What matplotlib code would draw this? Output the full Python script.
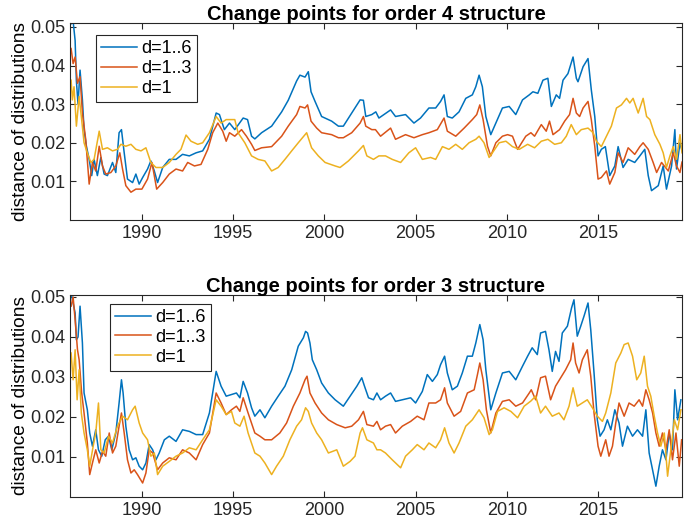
import matplotlib
matplotlib.use("Agg")
import matplotlib.pyplot as plt

plt.rcParams['font.family'] = ['Liberation Sans', 'DejaVu Sans']

# colours used by MATLAB for the first three lines
C_BLUE = '#0072BD'
C_RED = '#D95319'
C_YEL = '#EDB120'

labels = ['d=1..6', 'd=1..3', 'd=1']
titles = ['Change points for order 4 structure', 'Change points for order 3 structure']
year_ticks = [1990, 1995, 2000, 2005, 2010, 2015]
dist_ticks = [0.01, 0.02, 0.03, 0.04, 0.05]

# ---- order 4 structure ----
top_d16_t = [1986.12, 1986.23, 1986.34, 1986.41, 1986.50, 1986.61, 1986.74, 1986.83, 1986.96, 1987.11,
             1987.25, 1987.38, 1987.56, 1987.75, 1987.93, 1988.11, 1988.39, 1988.57, 1988.75, 1988.88,
             1989.03, 1989.21, 1989.49, 1989.67, 1989.85, 1990.04, 1990.31, 1990.49, 1990.68, 1990.86,
             1991.14, 1991.50, 1991.87, 1992.23, 1992.60, 1992.97, 1993.33, 1993.70, 1994.07, 1994.25,
             1994.52, 1994.80, 1995.09, 1995.55, 1995.79, 1996.01, 1996.19, 1996.56, 1997.11, 1997.66,
             1998.02, 1998.48, 1998.66, 1998.94, 1999.12, 1999.27, 1999.49, 1999.85, 2000.40, 2000.77,
             2001.04, 2001.50, 2001.96, 2002.14, 2002.27, 2002.60, 2002.82, 2002.99, 2003.26, 2003.63,
             2003.90, 2004.45, 2004.91, 2005.27, 2005.73, 2006.10, 2006.37, 2006.56, 2006.74, 2007.01,
             2007.38, 2007.75, 2008.11, 2008.30, 2008.48, 2008.66, 2008.85, 2009.12, 2009.40, 2009.76,
             2010.13, 2010.49, 2010.86, 2011.23, 2011.43, 2011.70, 2011.98, 2012.25, 2012.44, 2012.71,
             2012.89, 2013.08, 2013.35, 2013.63, 2013.81, 2013.90, 2014.18, 2014.45, 2014.63, 2014.82,
             2015.00, 2015.18, 2015.40, 2015.64, 2015.92, 2016.10, 2016.37, 2016.65, 2017.01, 2017.29,
             2017.56, 2017.75, 2017.93, 2018.30, 2018.57, 2018.75, 2019.03, 2019.21, 2019.30, 2019.49,
             2019.60]
top_d16_v = [0.0508, 0.0515, 0.0465, 0.0360, 0.0300, 0.0388, 0.0311, 0.0234, 0.0191, 0.0157,
             0.0115, 0.0157, 0.0115, 0.0162, 0.0119, 0.0115, 0.0149, 0.0123, 0.0226, 0.0234,
             0.0174, 0.0106, 0.0097, 0.0119, 0.0093, 0.0110, 0.0132, 0.0153, 0.0127, 0.0097,
             0.0136, 0.0157, 0.0157, 0.0170, 0.0166, 0.0174, 0.0179, 0.0209, 0.0277, 0.0273,
             0.0234, 0.0251, 0.0234, 0.0264, 0.0260, 0.0217, 0.0210, 0.0226, 0.0243, 0.0280,
             0.0310, 0.0360, 0.0375, 0.0370, 0.0384, 0.0332, 0.0307, 0.0268, 0.0256, 0.0243,
             0.0243, 0.0277, 0.0311, 0.0310, 0.0268, 0.0273, 0.0280, 0.0264, 0.0273, 0.0285,
             0.0268, 0.0273, 0.0251, 0.0264, 0.0290, 0.0290, 0.0307, 0.0324, 0.0268, 0.0264,
             0.0280, 0.0315, 0.0324, 0.0345, 0.0375, 0.0345, 0.0268, 0.0221, 0.0251, 0.0290,
             0.0294, 0.0273, 0.0311, 0.0324, 0.0332, 0.0328, 0.0362, 0.0367, 0.0294, 0.0324,
             0.0315, 0.0362, 0.0379, 0.0422, 0.0367, 0.0358, 0.0397, 0.0418, 0.0337, 0.0268,
             0.0166, 0.0183, 0.0190, 0.0115, 0.0140, 0.0190, 0.0136, 0.0157, 0.0149, 0.0166,
             0.0183, 0.0115, 0.0076, 0.0089, 0.0140, 0.0080, 0.0140, 0.0234, 0.0132, 0.0200,
             0.0180]

top_d13_t = [1986.12, 1986.23, 1986.34, 1986.47, 1986.61, 1986.74, 1986.92, 1987.11, 1987.29, 1987.47,
             1987.66, 1987.84, 1988.02, 1988.30, 1988.57, 1988.79, 1988.94, 1989.12, 1989.40, 1989.67,
             1990.00, 1990.31, 1990.55, 1990.81, 1991.14, 1991.50, 1991.87, 1992.23, 1992.51, 1992.88,
             1993.24, 1993.61, 1993.88, 1994.16, 1994.43, 1994.62, 1994.80, 1995.09, 1995.46, 1995.73,
             1996.01, 1996.19, 1996.56, 1997.11, 1997.66, 1998.02, 1998.48, 1998.66, 1998.94, 1999.08,
             1999.27, 1999.58, 1999.85, 2000.40, 2000.77, 2001.04, 2001.50, 2001.96, 2002.14, 2002.27,
             2002.60, 2002.80, 2003.08, 2003.63, 2003.90, 2004.45, 2004.91, 2005.37, 2005.73, 2006.19,
             2006.56, 2006.74, 2007.20, 2007.66, 2008.11, 2008.35, 2008.52, 2008.70, 2008.94, 2009.12,
             2009.40, 2009.76, 2010.04, 2010.31, 2010.59, 2011.04, 2011.32, 2011.52, 2011.89, 2012.16,
             2012.34, 2012.53, 2012.89, 2013.17, 2013.44, 2013.63, 2013.81, 2013.99, 2014.18, 2014.45,
             2014.63, 2014.82, 2015.00, 2015.18, 2015.46, 2015.64, 2015.92, 2016.10, 2016.37, 2016.65,
             2017.01, 2017.29, 2017.47, 2017.75, 2018.02, 2018.21, 2018.48, 2018.85, 2019.12, 2019.30,
             2019.49, 2019.60]
top_d13_v = [0.0444, 0.0405, 0.0422, 0.0354, 0.0371, 0.0277, 0.0209, 0.0093, 0.0149, 0.0127,
             0.0191, 0.0140, 0.0119, 0.0123, 0.0140, 0.0174, 0.0132, 0.0089, 0.0072, 0.0080,
             0.0080, 0.0106, 0.0149, 0.0080, 0.0097, 0.0119, 0.0132, 0.0127, 0.0149, 0.0140,
             0.0144, 0.0183, 0.0226, 0.0251, 0.0230, 0.0204, 0.0226, 0.0217, 0.0234, 0.0217,
             0.0196, 0.0180, 0.0187, 0.0190, 0.0217, 0.0243, 0.0273, 0.0294, 0.0290, 0.0298,
             0.0256, 0.0238, 0.0226, 0.0221, 0.0213, 0.0213, 0.0226, 0.0251, 0.0268, 0.0243,
             0.0234, 0.0234, 0.0217, 0.0238, 0.0209, 0.0221, 0.0213, 0.0221, 0.0226, 0.0234,
             0.0264, 0.0230, 0.0217, 0.0238, 0.0260, 0.0273, 0.0298, 0.0260, 0.0191, 0.0166,
             0.0200, 0.0217, 0.0221, 0.0217, 0.0183, 0.0217, 0.0226, 0.0217, 0.0247, 0.0230,
             0.0256, 0.0221, 0.0234, 0.0256, 0.0273, 0.0315, 0.0277, 0.0268, 0.0290, 0.0307,
             0.0260, 0.0191, 0.0106, 0.0110, 0.0127, 0.0093, 0.0123, 0.0174, 0.0149, 0.0187,
             0.0170, 0.0190, 0.0200, 0.0183, 0.0149, 0.0123, 0.0149, 0.0127, 0.0174, 0.0140,
             0.0123, 0.0150]

top_d1_t = [1986.12, 1986.19, 1986.28, 1986.41, 1986.56, 1986.68, 1986.83, 1987.01, 1987.20, 1987.38,
            1987.66, 1987.84, 1988.11, 1988.39, 1988.66, 1988.85, 1989.12, 1989.40, 1989.67, 1989.95,
            1990.22, 1990.49, 1990.77, 1991.14, 1991.50, 1991.87, 1992.14, 1992.42, 1992.69, 1993.06,
            1993.33, 1993.70, 1994.07, 1994.34, 1994.62, 1995.09, 1995.27, 1995.64, 1996.01, 1996.37,
            1996.74, 1997.11, 1997.47, 1997.84, 1998.21, 1998.57, 1999.03, 1999.30, 1999.67, 2000.04,
            2000.59, 2000.86, 2001.32, 2001.87, 2002.14, 2002.33, 2002.69, 2002.99, 2003.35, 2003.72,
            2004.18, 2004.63, 2005.00, 2005.37, 2005.82, 2006.10, 2006.47, 2006.83, 2007.20, 2007.56,
            2007.93, 2008.30, 2008.48, 2008.75, 2009.03, 2009.21, 2009.58, 2009.95, 2010.31, 2010.68,
            2011.14, 2011.52, 2011.89, 2012.25, 2012.62, 2012.99, 2013.26, 2013.53, 2013.81, 2014.08,
            2014.45, 2014.73, 2014.91, 2015.18, 2015.46, 2015.73, 2016.01, 2016.28, 2016.56, 2016.74,
            2016.92, 2017.20, 2017.47, 2017.66, 2017.84, 2018.11, 2018.39, 2018.57, 2018.75, 2018.94,
            2019.12, 2019.30, 2019.49, 2019.60]
top_d1_v = [0.0362, 0.0311, 0.0345, 0.0243, 0.0320, 0.0268, 0.0200, 0.0174, 0.0149, 0.0157,
            0.0230, 0.0183, 0.0187, 0.0179, 0.0183, 0.0196, 0.0191, 0.0196, 0.0183, 0.0179,
            0.0187, 0.0149, 0.0136, 0.0136, 0.0149, 0.0170, 0.0183, 0.0220, 0.0204, 0.0196,
            0.0200, 0.0226, 0.0268, 0.0251, 0.0260, 0.0260, 0.0226, 0.0200, 0.0166, 0.0157,
            0.0153, 0.0127, 0.0136, 0.0157, 0.0179, 0.0200, 0.0226, 0.0187, 0.0166, 0.0149,
            0.0140, 0.0136, 0.0153, 0.0179, 0.0193, 0.0166, 0.0157, 0.0166, 0.0166, 0.0157,
            0.0149, 0.0174, 0.0187, 0.0157, 0.0162, 0.0157, 0.0190, 0.0183, 0.0196, 0.0183,
            0.0200, 0.0209, 0.0217, 0.0200, 0.0162, 0.0174, 0.0200, 0.0204, 0.0190, 0.0183,
            0.0196, 0.0187, 0.0204, 0.0209, 0.0196, 0.0200, 0.0217, 0.0247, 0.0221, 0.0234,
            0.0238, 0.0226, 0.0204, 0.0190, 0.0217, 0.0243, 0.0290, 0.0298, 0.0315, 0.0303,
            0.0315, 0.0277, 0.0315, 0.0268, 0.0260, 0.0221, 0.0196, 0.0174, 0.0136, 0.0166,
            0.0190, 0.0157, 0.0221, 0.0174]

# ---- order 3 structure ----
bot_d16_t = [1986.12, 1986.23, 1986.34, 1986.41, 1986.50, 1986.61, 1986.74, 1986.83, 1987.01, 1987.14,
             1987.29, 1987.47, 1987.62, 1987.80, 1987.99, 1988.17, 1988.35, 1988.57, 1988.75, 1988.88,
             1988.97, 1989.12, 1989.30, 1989.49, 1989.67, 1989.85, 1990.04, 1990.22, 1990.40, 1990.59,
             1990.77, 1990.95, 1991.23, 1991.50, 1991.87, 1992.23, 1992.60, 1992.97, 1993.33, 1993.70,
             1994.07, 1994.34, 1994.62, 1994.91, 1995.18, 1995.37, 1995.55, 1995.79, 1996.01, 1996.19,
             1996.47, 1996.74, 1997.11, 1997.47, 1997.84, 1998.21, 1998.57, 1998.85, 1998.97, 1999.08,
             1999.21, 1999.34, 1999.58, 1999.85, 2000.22, 2000.59, 2001.04, 2001.41, 2001.78, 2002.05,
             2002.20, 2002.42, 2002.69, 2002.88, 2003.08, 2003.35, 2003.63, 2003.90, 2004.27, 2004.73,
             2005.00, 2005.37, 2005.64, 2005.92, 2006.19, 2006.37, 2006.59, 2006.74, 2007.01, 2007.29,
             2007.56, 2007.84, 2008.11, 2008.30, 2008.52, 2008.70, 2008.85, 2009.12, 2009.40, 2009.76,
             2010.13, 2010.49, 2010.86, 2011.14, 2011.39, 2011.67, 2011.85, 2012.12, 2012.31, 2012.49,
             2012.67, 2012.86, 2013.04, 2013.32, 2013.55, 2013.68, 2013.86, 2014.05, 2014.23, 2014.45,
             2014.60, 2014.78, 2014.96, 2015.11, 2015.33, 2015.51, 2015.70, 2015.92, 2016.15, 2016.34,
             2016.61, 2016.89, 2017.16, 2017.44, 2017.62, 2017.80, 2017.99, 2018.17, 2018.35, 2018.53,
             2018.72, 2018.90, 2019.08, 2019.21, 2019.36, 2019.54]
bot_d16_v = [0.0510, 0.0485, 0.0460, 0.0393, 0.0400, 0.0477, 0.0385, 0.0260, 0.0218, 0.0160,
             0.0127, 0.0168, 0.0118, 0.0102, 0.0143, 0.0152, 0.0118, 0.0160, 0.0235, 0.0293,
             0.0260, 0.0177, 0.0118, 0.0093, 0.0098, 0.0077, 0.0068, 0.0085, 0.0131, 0.0118,
             0.0093, 0.0110, 0.0143, 0.0152, 0.0139, 0.0168, 0.0164, 0.0156, 0.0156, 0.0210,
             0.0314, 0.0277, 0.0252, 0.0256, 0.0260, 0.0248, 0.0289, 0.0260, 0.0223, 0.0202,
             0.0218, 0.0198, 0.0227, 0.0252, 0.0277, 0.0318, 0.0377, 0.0398, 0.0414, 0.0410,
             0.0385, 0.0343, 0.0318, 0.0285, 0.0260, 0.0243, 0.0227, 0.0252, 0.0277, 0.0298,
             0.0277, 0.0248, 0.0243, 0.0260, 0.0243, 0.0252, 0.0260, 0.0239, 0.0243, 0.0248,
             0.0235, 0.0264, 0.0306, 0.0289, 0.0306, 0.0331, 0.0352, 0.0310, 0.0268, 0.0277,
             0.0310, 0.0352, 0.0352, 0.0385, 0.0431, 0.0393, 0.0318, 0.0218, 0.0260, 0.0310,
             0.0314, 0.0293, 0.0327, 0.0352, 0.0373, 0.0356, 0.0410, 0.0414, 0.0368, 0.0314,
             0.0364, 0.0339, 0.0410, 0.0427, 0.0473, 0.0493, 0.0402, 0.0427, 0.0452, 0.0485,
             0.0418, 0.0310, 0.0193, 0.0152, 0.0168, 0.0193, 0.0168, 0.0218, 0.0185, 0.0127,
             0.0177, 0.0152, 0.0168, 0.0152, 0.0218, 0.0110, 0.0068, 0.0027, 0.0077, 0.0118,
             0.0093, 0.0160, 0.0118, 0.0268, 0.0193, 0.0243]

bot_d13_t = [1986.12, 1986.23, 1986.34, 1986.47, 1986.56, 1986.70, 1986.83, 1987.01, 1987.14, 1987.29,
             1987.47, 1987.66, 1987.84, 1988.02, 1988.21, 1988.39, 1988.57, 1988.75, 1988.88, 1989.03,
             1989.21, 1989.40, 1989.58, 1989.76, 1990.04, 1990.22, 1990.40, 1990.59, 1990.86, 1991.14,
             1991.50, 1991.87, 1992.23, 1992.60, 1992.97, 1993.33, 1993.70, 1994.07, 1994.34, 1994.62,
             1994.91, 1995.18, 1995.37, 1995.55, 1995.82, 1996.19, 1996.47, 1996.74, 1997.11, 1997.56,
             1997.93, 1998.30, 1998.66, 1998.94, 1999.05, 1999.21, 1999.49, 1999.85, 2000.22, 2000.68,
             2001.14, 2001.50, 2001.87, 2002.14, 2002.33, 2002.69, 2002.88, 2003.08, 2003.35, 2003.63,
             2003.90, 2004.27, 2004.73, 2005.09, 2005.46, 2005.73, 2006.10, 2006.37, 2006.59, 2006.74,
             2007.11, 2007.47, 2007.84, 2008.21, 2008.39, 2008.52, 2008.70, 2008.88, 2009.12, 2009.40,
             2009.76, 2010.13, 2010.49, 2010.86, 2011.23, 2011.34, 2011.58, 2011.85, 2012.12, 2012.40,
             2012.67, 2012.95, 2013.22, 2013.50, 2013.63, 2013.77, 2013.96, 2014.14, 2014.41, 2014.60,
             2014.78, 2015.00, 2015.15, 2015.42, 2015.60, 2015.79, 2015.97, 2016.15, 2016.43, 2016.70,
             2016.98, 2017.25, 2017.44, 2017.62, 2017.80, 2017.99, 2018.17, 2018.35, 2018.53, 2018.72,
             2018.90, 2019.08, 2019.27, 2019.45, 2019.58]
bot_d13_v = [0.0477, 0.0500, 0.0443, 0.0368, 0.0343, 0.0260, 0.0210, 0.0135, 0.0056, 0.0085,
             0.0118, 0.0085, 0.0114, 0.0102, 0.0160, 0.0110, 0.0127, 0.0177, 0.0210, 0.0160,
             0.0093, 0.0060, 0.0068, 0.0056, 0.0035, 0.0060, 0.0118, 0.0110, 0.0068, 0.0085,
             0.0098, 0.0093, 0.0118, 0.0110, 0.0093, 0.0131, 0.0160, 0.0260, 0.0235, 0.0206,
             0.0218, 0.0227, 0.0214, 0.0248, 0.0210, 0.0160, 0.0152, 0.0143, 0.0143, 0.0160,
             0.0185, 0.0227, 0.0260, 0.0293, 0.0302, 0.0260, 0.0235, 0.0210, 0.0193, 0.0181,
             0.0173, 0.0177, 0.0193, 0.0214, 0.0181, 0.0177, 0.0189, 0.0168, 0.0177, 0.0181,
             0.0160, 0.0177, 0.0189, 0.0202, 0.0193, 0.0235, 0.0235, 0.0243, 0.0273, 0.0235,
             0.0202, 0.0214, 0.0260, 0.0268, 0.0306, 0.0335, 0.0293, 0.0218, 0.0160, 0.0210,
             0.0239, 0.0243, 0.0227, 0.0235, 0.0260, 0.0268, 0.0243, 0.0298, 0.0302, 0.0243,
             0.0277, 0.0298, 0.0318, 0.0343, 0.0385, 0.0335, 0.0310, 0.0343, 0.0368, 0.0302,
             0.0210, 0.0127, 0.0102, 0.0143, 0.0102, 0.0127, 0.0185, 0.0235, 0.0202, 0.0235,
             0.0227, 0.0243, 0.0227, 0.0268, 0.0243, 0.0210, 0.0160, 0.0127, 0.0160, 0.0118,
             0.0168, 0.0093, 0.0160, 0.0077, 0.0143]

bot_d1_t = [1986.12, 1986.23, 1986.34, 1986.45, 1986.56, 1986.68, 1986.83, 1987.01, 1987.14, 1987.33,
            1987.47, 1987.62, 1987.75, 1987.93, 1988.17, 1988.39, 1988.66, 1988.94, 1989.21, 1989.49,
            1989.63, 1989.85, 1990.04, 1990.31, 1990.49, 1990.68, 1990.86, 1991.14, 1991.50, 1991.87,
            1992.23, 1992.60, 1992.97, 1993.33, 1993.70, 1994.07, 1994.34, 1994.62, 1994.91, 1995.09,
            1995.37, 1995.60, 1995.82, 1996.19, 1996.47, 1996.74, 1997.11, 1997.38, 1997.75, 1998.11,
            1998.48, 1998.75, 1998.97, 1999.12, 1999.30, 1999.58, 1999.85, 2000.22, 2000.68, 2001.04,
            2001.41, 2001.68, 2001.96, 2002.09, 2002.33, 2002.69, 2002.88, 2003.08, 2003.35, 2003.72,
            2004.18, 2004.45, 2004.82, 2005.09, 2005.46, 2005.73, 2006.10, 2006.37, 2006.59, 2006.83,
            2007.11, 2007.38, 2007.75, 2008.11, 2008.48, 2008.75, 2009.03, 2009.21, 2009.49, 2009.85,
            2010.22, 2010.59, 2010.95, 2011.32, 2011.58, 2011.85, 2012.12, 2012.49, 2012.86, 2013.13,
            2013.41, 2013.63, 2013.86, 2014.14, 2014.41, 2014.69, 2014.96, 2015.24, 2015.42, 2015.70,
            2015.97, 2016.25, 2016.43, 2016.65, 2016.89, 2017.12, 2017.34, 2017.53, 2017.71, 2017.89,
            2018.08, 2018.26, 2018.44, 2018.63, 2018.81, 2018.99, 2019.18, 2019.36, 2019.54]
bot_d1_v = [0.0360, 0.0293, 0.0368, 0.0243, 0.0318, 0.0210, 0.0160, 0.0118, 0.0077, 0.0127,
            0.0160, 0.0235, 0.0118, 0.0110, 0.0152, 0.0135, 0.0177, 0.0202, 0.0193, 0.0218,
            0.0227, 0.0185, 0.0160, 0.0143, 0.0102, 0.0110, 0.0056, 0.0077, 0.0089, 0.0102,
            0.0110, 0.0123, 0.0118, 0.0143, 0.0168, 0.0243, 0.0227, 0.0206, 0.0214, 0.0185,
            0.0177, 0.0202, 0.0160, 0.0110, 0.0102, 0.0085, 0.0056, 0.0077, 0.0102, 0.0143,
            0.0177, 0.0193, 0.0223, 0.0214, 0.0185, 0.0160, 0.0143, 0.0110, 0.0118, 0.0077,
            0.0089, 0.0102, 0.0160, 0.0173, 0.0143, 0.0135, 0.0118, 0.0118, 0.0110, 0.0093,
            0.0073, 0.0102, 0.0118, 0.0131, 0.0118, 0.0135, 0.0123, 0.0143, 0.0173, 0.0135,
            0.0110, 0.0135, 0.0177, 0.0193, 0.0218, 0.0198, 0.0156, 0.0168, 0.0214, 0.0223,
            0.0214, 0.0198, 0.0227, 0.0240, 0.0252, 0.0210, 0.0227, 0.0202, 0.0210, 0.0193,
            0.0227, 0.0273, 0.0227, 0.0235, 0.0243, 0.0223, 0.0202, 0.0189, 0.0210, 0.0260,
            0.0335, 0.0360, 0.0381, 0.0385, 0.0352, 0.0293, 0.0310, 0.0352, 0.0277, 0.0252,
            0.0202, 0.0160, 0.0127, 0.0160, 0.0052, 0.0118, 0.0193, 0.0168, 0.0218]

panels = [
    (top_d16_t, top_d16_v, top_d13_t, top_d13_v, top_d1_t, top_d1_v),
    (bot_d16_t, bot_d16_v, bot_d13_t, bot_d13_v, bot_d1_t, bot_d1_v),
]

fig = plt.figure(figsize=(6.85, 5.22), dpi=100)
ax_top = fig.add_axes([0.1022, 0.5785, 0.8934, 0.3774])
ax_bot = fig.add_axes([0.1022, 0.0479, 0.8934, 0.3870])
legend_anchor = [(0.042, 0.939), (0.065, 0.957)]
ytops = [0.051, 0.0505]

for i, ax in enumerate([ax_top, ax_bot]):
    t6, v6, t3, v3, t1, v1 = panels[i]
    ax.plot(t6, v6, color=C_BLUE, lw=1.1, label=labels[0])
    ax.plot(t3, v3, color=C_RED, lw=1.1, label=labels[1])
    ax.plot(t1, v1, color=C_YEL, lw=1.1, label=labels[2])
    ax.set_xlim(1986.06, 2019.6)
    ax.set_ylim(0, ytops[i])
    ax.set_xticks(year_ticks)
    ax.set_yticks(dist_ticks)
    ax.set_yticklabels(['0.01', '0.02', '0.03', '0.04', '0.05'])
    ax.tick_params(direction='in', top=True, right=True, labelsize=13, length=4,
                   color='#262626', labelcolor='#262626', width=0.8)
    for sp in ax.spines.values():
        sp.set_color('#262626')
        sp.set_linewidth(0.8)
    ax.set_title(titles[i], fontsize=14.5, fontweight='bold', pad=2)
    ax.set_ylabel('distance of distributions', fontsize=13.8, labelpad=1)
    leg = ax.legend(loc='upper left', bbox_to_anchor=legend_anchor[i], borderaxespad=0,
                    fontsize=13, fancybox=False, framealpha=1, edgecolor='#262626',
                    handlelength=2.0, handletextpad=0.2, labelspacing=0.15, borderpad=0.3)
    leg.get_frame().set_linewidth(0.8)

fig.savefig('out.png', dpi=100)
